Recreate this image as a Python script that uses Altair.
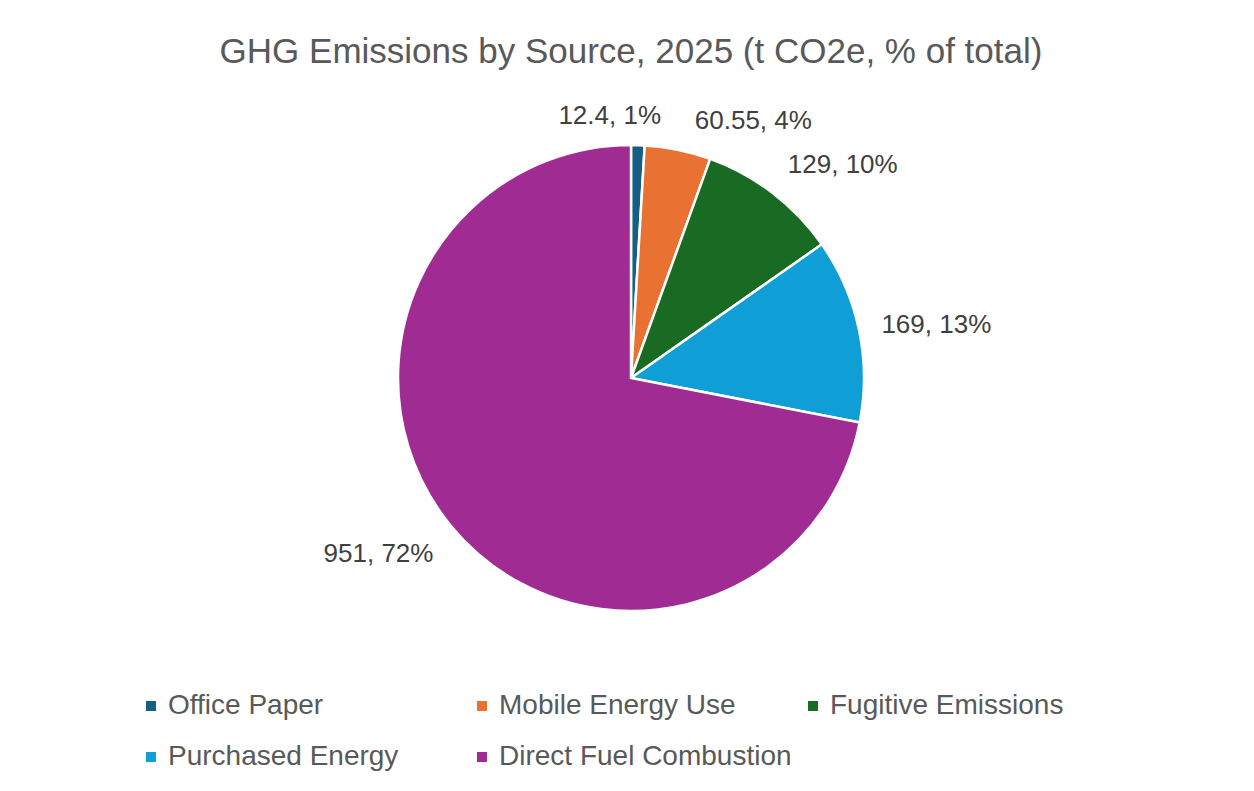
import altair as alt
import pandas as pd

categories = ["Office Paper", "Mobile Energy Use", "Fugitive Emissions",
              "Purchased Energy", "Direct Fuel Combustion"]
values = [12.4, 60.55, 129, 169, 951]
labels = ["12.4, 1%", "60.55, 4%", "129, 10%", "169, 13%", "951, 72%"]
colors = ["#156082", "#E97132", "#196B24", "#0F9ED5", "#A02B93"]

FONT = "Liberation Sans, Arial, sans-serif"

df = pd.DataFrame({
    "category": categories,
    "value": values,
    "label": labels,
    "idx": list(range(len(categories))),
})

base = (
    alt.Chart(df)
    .transform_window(cum="sum(value)", sort=[{"field": "idx"}], frame=[None, 0])
    .transform_joinaggregate(total="sum(value)")
    .transform_calculate(
        a0="2*PI*(datum.cum - datum.value)/datum.total",
        a1="2*PI*datum.cum/datum.total",
    )
    .transform_calculate(am="(datum.a0 + datum.a1)/2")
)

arc = base.mark_arc(outerRadius=233, stroke="white", strokeWidth=2.5).encode(
    theta=alt.Theta("a0:Q", scale=None),
    theta2="a1:Q",
    color=alt.Color(
        "category:N",
        scale=alt.Scale(domain=categories, range=colors),
        legend=alt.Legend(
            title=None,
            orient="none",
            legendX=121,
            legendY=612,
            direction="horizontal",
            columns=3,
            gridAlign="all",
            columnPadding=7,
            rowPadding=23,
            symbolType="square",
            symbolSize=100,
            symbolStrokeWidth=0,
            labelFontSize=28,
            labelColor="#595959",
            labelFont=FONT,
            labelLimit=600,
            labelOffset=3,
            padding=0,
        ),
    ),
)

text_style = dict(fontSize=26, color="#404040", font=FONT)
theta_mid = alt.Theta("am:Q", scale=None)


def label_layer(cats, **kw):
    return base.transform_filter(
        alt.FieldOneOfPredicate(field="category", oneOf=cats)
    ).mark_text(**text_style, **kw).encode(theta=theta_mid, text="label:N")


t_office = label_layer(["Office Paper"], radius=262, align="center", baseline="middle", dx=-29)
t_mobile = label_layer(["Mobile Energy Use"], radius=262, align="left", baseline="middle", dx=11)
t_fug = label_layer(["Fugitive Emissions"], radius=258, align="left", baseline="bottom", dy=5)
t_pur = label_layer(["Purchased Energy"], radius=256, align="left", baseline="middle")
t_dir = label_layer(["Direct Fuel Combustion"], radius=256, align="right", baseline="top")

chart = (
    alt.layer(arc, t_office, t_mobile, t_fug, t_pur, t_dir)
    .properties(
        width=1230,
        height=596,
        padding={"left": 8, "right": 0, "top": 27, "bottom": 5},
        background="white",
        title=alt.TitleParams(
            "GHG Emissions by Source, 2025 (t CO2e, % of total)",
            fontSize=35,
            font=FONT,
            color="#595959",
            fontWeight="normal",
            anchor="middle",
            offset=10,
        ),
    )
    .configure_view(stroke=None)
)

chart.save("out.html", embed_options={"renderer": "svg", "actions": False})
